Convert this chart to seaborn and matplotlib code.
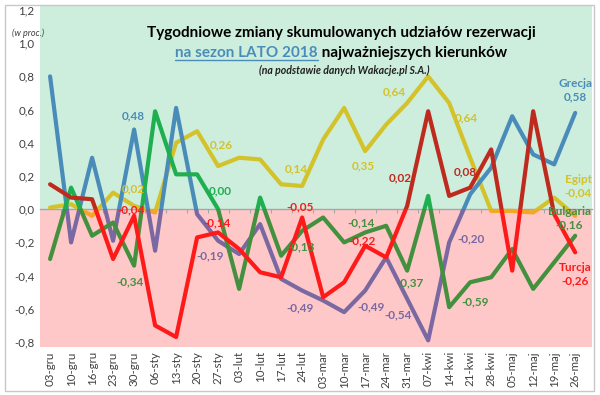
import numpy as np
import pandas as pd
import matplotlib
matplotlib.use("Agg")
import matplotlib.pyplot as plt
import seaborn as sns
from matplotlib.patches import Rectangle
from matplotlib.lines import Line2D
from matplotlib.ticker import FixedLocator
from matplotlib.transforms import IdentityTransform

# ---------------- data ----------------
weeks = ["03-gru", "10-gru", "16-gru", "23-gru", "30-gru", "06-sty", "13-sty",
         "20-sty", "27-sty", "03-lut", "10-lut", "17-lut", "24-lut", "03-mar",
         "10-mar", "17-mar", "24-mar", "31-mar", "07-kwi", "14-kwi", "21-kwi",
         "28-kwi", "05-maj", "12-maj", "19-maj", "26-maj"]

grecja = [0.80, -0.20, 0.31, -0.19, 0.48, -0.25, 0.61, -0.03, -0.19, -0.27,
          -0.09, -0.42, -0.49, -0.55, -0.62, -0.49, -0.29, -0.54, -0.79, -0.20,
          0.09, 0.25, 0.56, 0.33, 0.27, 0.58]
egipt = [0.01, 0.03, -0.04, 0.10, 0.02, -0.02, 0.40, 0.47, 0.26, 0.31,
         0.30, 0.15, 0.14, 0.42, 0.61, 0.35, 0.51, 0.64, 0.80, 0.64,
         0.31, -0.01, -0.01, -0.02, 0.07, -0.04]
bulgaria = [-0.30, 0.13, -0.16, -0.08, -0.34, 0.59, 0.21, 0.21, 0.00, -0.48,
            0.07, -0.28, -0.13, -0.05, -0.20, -0.14, -0.10, -0.37, 0.08, -0.59,
            -0.44, -0.41, -0.24, -0.48, -0.32, -0.16]
turcja = [0.15, 0.07, 0.06, -0.30, -0.04, -0.70, -0.77, -0.17, -0.14, -0.24,
          -0.38, -0.41, -0.05, -0.53, -0.44, -0.22, -0.29, 0.02, 0.59, 0.08,
          0.13, 0.36, -0.37, 0.59, -0.03, -0.26]

series_names = ["Egipt", "Grecja", "Bulgaria", "Turcja"]   # drawing order
series_values = {"Grecja": grecja, "Egipt": egipt, "Bulgaria": bulgaria, "Turcja": turcja}

y_ticks = [-0.8, -0.6, -0.4, -0.2, 0.0, 0.2, 0.4, 0.6, 0.8, 1.0, 1.2]

title_line1 = "Tygodniowe zmiany skumulowanych udziałów rezerwacji"
title_line2a = "na sezon LATO 2018"
title_line2b = " najważniejszych kierunków"
title_line3 = "(na podstawie danych Wakacje.pl S.A.)"
unit_label = "(w proc.)"

# ---------------- styles ----------------
colors = {
    "Grecja": {"pos": "#4a8cb9", "neg": "#7a68a2"},
    "Egipt": {"pos": "#d4c22a", "neg": "#f5a623"},
    "Bulgaria": {"pos": "#1fae50", "neg": "#43903f"},
    "Turcja": {"pos": "#bf2a1e", "neg": "#ff1a1a"},
}
bg_pos = "#cdeedc"
bg_neg = "#ffc8c8"

# (series, index, dx px, dy px)
point_labels = [
    ("Grecja", 4, -1, 14), ("Egipt", 4, -1, 17), ("Turcja", 4, -3, 6), ("Bulgaria", 4, -4, -16),
    ("Egipt", 8, 3, 21), ("Bulgaria", 8, 2, 18), ("Turcja", 8, -1, 10), ("Grecja", 8, -8, -15),
    ("Egipt", 12, -6, 17), ("Turcja", 12, -2, 11), ("Bulgaria", 12, -1, -16), ("Grecja", 12, -2, -17),
    ("Egipt", 15, -2, -15), ("Bulgaria", 15, -4, 10), ("Turcja", 15, -3, 5), ("Grecja", 15, 6, -16),
    ("Egipt", 17, -13, 11), ("Turcja", 17, -7, 28), ("Bulgaria", 17, 3, -12), ("Grecja", 17, -9, -16),
    ("Egipt", 19, 17, -15), ("Turcja", 19, 16, 24), ("Grecja", 19, 22, 4), ("Bulgaria", 19, 26, 5),
]
# (series, dx px, dy px, colour key)
end_labels = [("Grecja", 0, 23, "pos"), ("Egipt", 3, 30, "pos"),
              ("Bulgaria", -6, 18, "neg"), ("Turcja", 0, -22, "neg")]


def fmt(v):
    return f"{v:.2f}".replace(".", ",").replace("-0,00", "0,00")


sns.set_theme(style="white")
plt.rcParams["font.family"] = ["Lato", "DejaVu Sans"]

W, H = 600, 395
fig = plt.figure(figsize=(W / 100, H / 100), dpi=100)
fig.patch.set_facecolor("white")
ax = fig.add_axes([40 / W, 1 - 347 / H, (592 - 40) / W, (347 - 5) / H])
ax.set_facecolor("white")
ax.set_xlim(-0.48, len(weeks) - 0.2)
ax.set_ylim(-0.83, 1.23)

pos_patch = ax.axhspan(0, 1.23, facecolor=bg_pos, edgecolor="none", zorder=0)
neg_patch = ax.axhspan(-0.83, 0, facecolor=bg_neg, edgecolor="none", zorder=0)

for z, name in enumerate(series_names):
    df = pd.DataFrame({"x": np.arange(len(weeks)), "y": series_values[name]})
    for sign, patch in (("pos", pos_patch), ("neg", neg_patch)):
        n0 = len(ax.lines)
        sns.lineplot(data=df, x="x", y="y", color=colors[name][sign], lw=3.0,
                     ax=ax, sort=False, legend=False)
        for ln in ax.lines[n0:]:
            ln.set_clip_path(patch)
            ln.set_zorder(3 + z)

# axes decoration
for s in ["left", "right", "bottom"]:
    ax.spines[s].set_visible(False)
ax.spines["top"].set_position(("data", 0))
ax.spines["top"].set_color("#a6a6a6")
ax.spines["top"].set_linewidth(1.0)
ax.spines["top"].set_zorder(2)
ax.set_xticks(np.arange(len(weeks)))
ax.set_xticklabels(weeks, rotation=90, fontsize=8.3, color="#404040")
ax.xaxis.set_minor_locator(FixedLocator(np.arange(-0.5, len(weeks), 1)))
ax.tick_params(axis="x", which="minor", top=True, bottom=False, direction="in",
               length=3, color="#a6a6a6", width=0.8)
ax.tick_params(axis="x", which="major", top=False, bottom=True, labeltop=False,
               length=0, pad=3)
ax.set_yticks(y_ticks)
ax.set_yticklabels([f"{t:.1f}".replace(".", ",") for t in y_ticks], fontsize=8.3, color="#404040")
ax.tick_params(axis="y", length=0, pad=4)
ax.set_xlabel("")
ax.set_ylabel("")
ax.grid(False)

# data labels
for name, i, dx, dy in point_labels:
    v = series_values[name][i]
    key = "pos" if v >= 0 else "neg"
    ax.annotate(fmt(v), (i, v), xytext=(dx, dy), textcoords="offset pixels",
                ha="center", va="center", fontsize=8.5, fontweight="bold",
                color=colors[name][key], zorder=20)
for name, dx, dy, key in end_labels:
    i = len(weeks) - 1
    v = series_values[name][i]
    ax.annotate(f"{name}\n{fmt(v)}", (i, v), xytext=(dx, dy), textcoords="offset pixels",
                ha="center", va="center", fontsize=8.5, fontweight="bold",
                color=colors[name][key], zorder=20, linespacing=1.25)

# titles
fig.text(341 / W, 1 - 33 / H, title_line1, ha="center", va="center",
         fontsize=11, fontweight="bold", color="black")
t_blue = fig.text(318 / W, 1 - 53 / H, title_line2a, ha="right", va="center",
                  fontsize=11, fontweight="bold", color="#4a8cb9")
fig.text(318 / W, 1 - 53 / H, title_line2b, ha="left", va="center",
         fontsize=11, fontweight="bold", color="black")
fig.text(344 / W, 1 - 70 / H, title_line3, ha="center", va="center",
         fontsize=7.6, fontweight="bold", style="italic", color="#202020")
fig.text(28 / W, 1 - 33 / H, unit_label, ha="center", va="center",
         fontsize=6.5, style="italic", color="#404040")

fig.canvas.draw()
bb = t_blue.get_window_extent()
fig.add_artist(Line2D([bb.x0, bb.x1], [bb.y0 + 0.5, bb.y0 + 0.5], transform=IdentityTransform(),
                      color="#4a8cb9", lw=1.0))

fig.add_artist(Rectangle((5 / W, 4 / H), 589 / W, 386 / H, transform=fig.transFigure,
                         fill=False, edgecolor="#c8c8c8", lw=1.0))

fig.savefig("out.png", dpi=100)
